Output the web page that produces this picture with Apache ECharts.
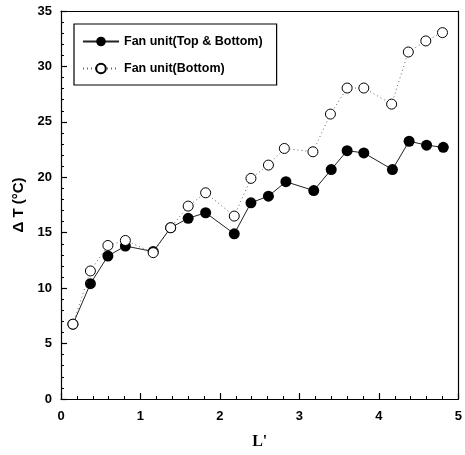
<!DOCTYPE html>
<html><head><meta charset="utf-8">
<script src="https://cdn.jsdelivr.net/npm/echarts@6/dist/echarts.min.js"></script>
<style>html,body{margin:0;padding:0;background:#fff}#c{width:465px;height:455px}</style>
</head><body><div id="c"></div>
<script>
const xTop = [0.15, 0.37, 0.59, 0.81, 1.16, 1.38, 1.60, 1.82, 2.18, 2.39, 2.61, 2.83, 3.18, 3.40, 3.60, 3.81, 4.17, 4.38, 4.60, 4.81];
const yTop = [6.75, 10.4, 12.9, 13.8, 13.3, 15.45, 16.3, 16.8, 14.9, 17.7, 18.3, 19.6, 18.8, 20.7, 22.4, 22.2, 20.7, 23.25, 22.9, 22.7];
const xBot = [0.15, 0.37, 0.59, 0.81, 1.16, 1.38, 1.60, 1.82, 2.18, 2.39, 2.61, 2.81, 3.17, 3.39, 3.60, 3.81, 4.16, 4.37, 4.59, 4.80];
const yBot = [6.75, 11.55, 13.85, 14.3, 13.2, 15.45, 17.4, 18.6, 16.5, 19.9, 21.1, 22.6, 22.3, 25.7, 28.05, 28.05, 26.6, 31.3, 32.3, 33.05];
const seriesNames = ['Fan unit(Top & Bottom)', 'Fan unit(Bottom)'];
const xTicks = [0, 1, 2, 3, 4, 5];
const yTicks = [0, 5, 10, 15, 20, 25, 30, 35];

const chart = echarts.init(document.getElementById('c'), null, {renderer: 'canvas'});
const lblFont = {color: '#000', fontFamily: 'Liberation Sans, Arial, sans-serif', fontWeight: 'bold', fontSize: 13};
const boxAxis = {
  axisLine: {show: true, onZero: false, lineStyle: {color: '#000', width: 1.2}},
  axisTick: {show: false}, axisLabel: {show: false}, splitLine: {show: false}
};
chart.setOption({
  animation: false,
  backgroundColor: '#fff',
  grid: {left: 61, right: 3, top: 11, bottom: 55, show: false},
  legend: {
    left: 74, top: 24, orient: 'vertical',
    backgroundColor: '#fff', borderColor: '#000', borderWidth: 1.2,
    padding: [11, 14, 10, 8], itemGap: 14, itemWidth: 36, itemHeight: 12,
    textStyle: {color: '#000', fontFamily: 'Liberation Sans, Arial, sans-serif', fontWeight: 'bold', fontSize: 12.5},
    data: seriesNames
  },
  xAxis: [{
    type: 'value', min: 0, max: 5, interval: 1, position: 'bottom',
    name: "L'", nameLocation: 'middle', nameGap: 35,
    nameTextStyle: {color: '#000', fontFamily: 'Liberation Serif, serif', fontWeight: 'bold', fontSize: 16},
    axisLine: {show: true, onZero: false, lineStyle: {color: '#000', width: 1.2}},
    axisTick: {show: true, inside: true, length: 6, lineStyle: {color: '#000', width: 1.2}},
    minorTick: {show: true, splitNumber: 5, length: 3, lineStyle: {color: '#000', width: 1}},
    splitLine: {show: false},
    axisLabel: Object.assign({margin: 11, formatter: v => xTicks.includes(v) ? String(v) : ''}, lblFont)
  }, Object.assign({type: 'value', min: 0, max: 5, interval: 1, position: 'top'}, boxAxis)],
  yAxis: [{
    type: 'value', min: 0, max: 35, interval: 5, position: 'left',
    name: 'Δ T (°C)', nameLocation: 'middle', nameGap: 31, nameRotate: 90,
    nameTextStyle: {color: '#000', fontFamily: 'Liberation Sans, Arial, sans-serif', fontWeight: 'bold', fontSize: 15},
    axisLine: {show: true, onZero: false, lineStyle: {color: '#000', width: 1.2}},
    axisTick: {show: true, inside: true, length: 6, lineStyle: {color: '#000', width: 1.2}},
    minorTick: {show: true, splitNumber: 5, length: 3, lineStyle: {color: '#000', width: 1}},
    splitLine: {show: false},
    axisLabel: Object.assign({margin: 9, formatter: v => yTicks.includes(v) ? String(v) : ''}, lblFont)
  }, Object.assign({type: 'value', min: 0, max: 35, interval: 5, position: 'right'}, boxAxis)],
  series: [
    {
      name: seriesNames[0], type: 'line', z: 2,
      data: xTop.map((x, i) => [x, yTop[i]]),
      symbol: 'circle', symbolSize: 11,
      itemStyle: {color: '#000'},
      lineStyle: {color: '#222', width: 1}
    },
    {
      name: seriesNames[1], type: 'line', z: 3,
      data: xBot.map((x, i) => [x, yBot[i]]),
      symbol: 'circle', symbolSize: 10,
      itemStyle: {color: '#fff', borderColor: '#000', borderWidth: 1},
      lineStyle: {color: '#666', width: 1, type: [1, 3]}
    }
  ]
});
</script>
</body></html>
